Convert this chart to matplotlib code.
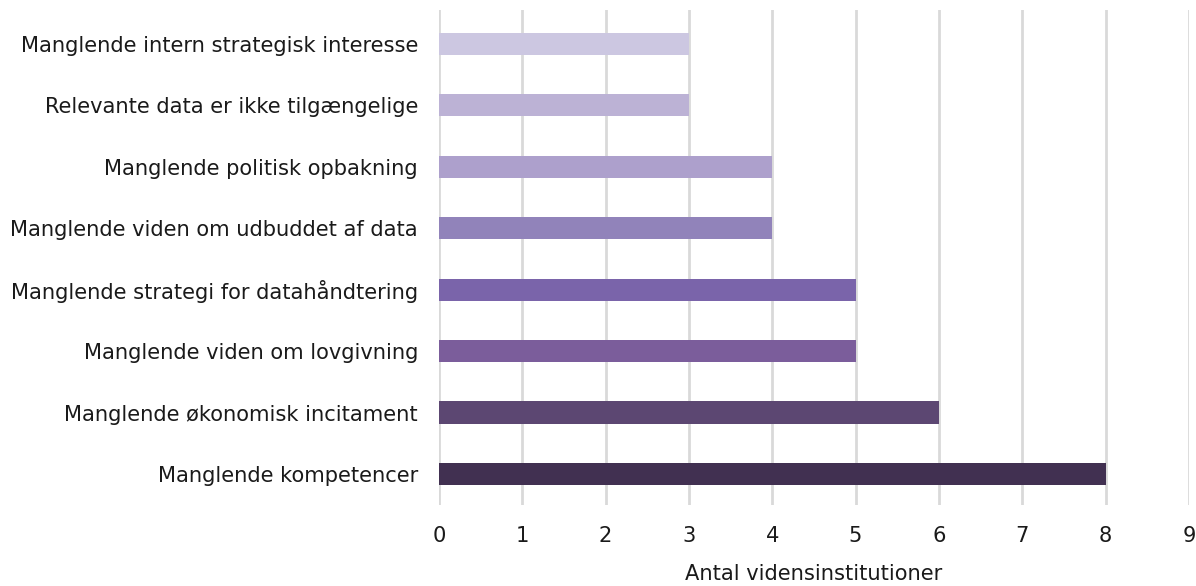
import matplotlib
matplotlib.use("Agg")
import matplotlib.pyplot as plt

categories = [
    "Manglende intern strategisk interesse",
    "Relevante data er ikke tilgængelige",
    "Manglende politisk opbakning",
    "Manglende viden om udbuddet af data",
    "Manglende strategi for datahåndtering",
    "Manglende viden om lovgivning",
    "Manglende økonomisk incitament",
    "Manglende kompetencer",
]
values = [3, 3, 4, 4, 5, 5, 6, 8]
colors = ["#CCC7E1", "#BCB2D5", "#ADA0CC", "#9183BA", "#7A64AA", "#7B5D9B", "#5C4772", "#413051"]
xticks = [0, 1, 2, 3, 4, 5, 6, 7, 8, 9]
xlabel = "Antal vidensinstitutioner"

plt.rcParams['font.family'] = ['DejaVu Sans']

fig = plt.figure(figsize=(11.96, 5.86), dpi=100)
ax = fig.add_axes([0.367, 0.138, 0.627, 0.845])

n = len(categories)
ypos = list(range(n))
ax.barh(ypos, values, height=0.36, color=colors, zorder=3)
ax.set_yticks(ypos)
ax.set_yticklabels(categories, fontsize=15.1, color="#1a1a1a")
ax.set_ylim(n - 0.493, -0.553)
ax.set_xlim(0, 9)
ax.set_xticks(xticks)
ax.set_xticklabels([str(t) for t in xticks], fontsize=15.1, color="#1a1a1a")
ax.tick_params(axis='x', length=0, pad=15)
ax.tick_params(axis='y', length=0, pad=15)
ax.grid(axis='x', color="#D9D9D9", linewidth=2, zorder=0)
ax.grid(axis='y', visible=False)
for s in ax.spines.values():
    s.set_visible(False)
ax.set_xlabel(xlabel, fontsize=15.1, color="#1a1a1a", labelpad=13)

fig.savefig("out.png", dpi=100)
